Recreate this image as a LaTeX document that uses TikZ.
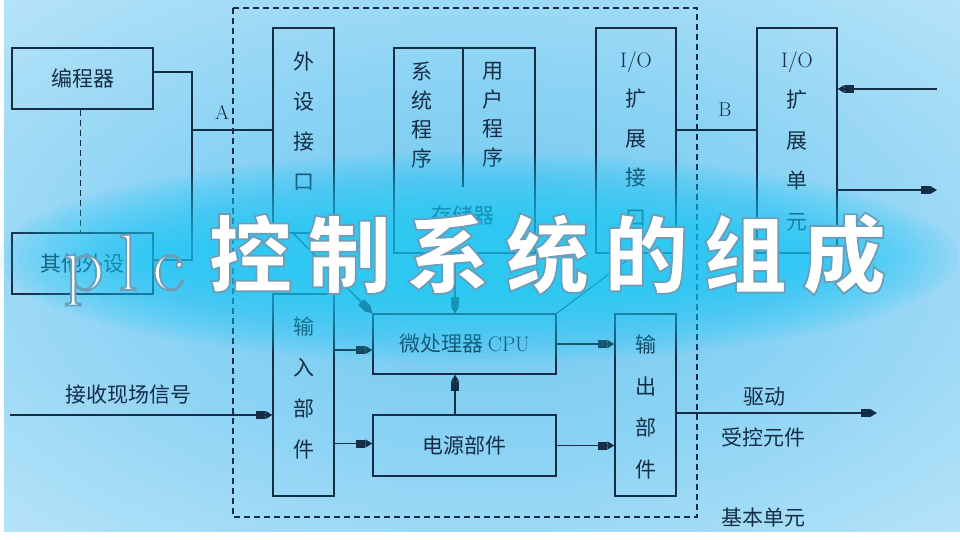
\documentclass[tikz,border=0pt]{standalone}
\usepackage{fontspec}
\newfontfamily\cjk{Noto Sans CJK SC}
\usetikzlibrary{arrows.meta,calc}
\definecolor{ink}{RGB}{22,45,70}
\definecolor{bgA}{RGB}{110,200,240}
\definecolor{bgB}{RGB}{140,211,244}
\definecolor{bgC}{RGB}{192,231,249}
\definecolor{bgD}{RGB}{236,248,253}
\definecolor{glowc}{RGB}{25,200,245}
\pgfdeclareradialshading{bgsh}{\pgfpointorigin}{color(0bp)=(bgA); color(18bp)=(bgB); color(40bp)=(bgC); color(71bp)=(bgD)}
\newcommand\strokeon{\special{pdf:literal direct 2 Tr 1.8 w 0.42 0.62 0.72 RG}}
\newcommand\strokeoff{\special{pdf:literal direct 0 Tr}}
\tikzset{
  box/.style={draw=ink, line width=1.3pt, inner sep=0pt},
  conn/.style={draw=ink, line width=1.3pt},
  dashln/.style={draw=ink, line width=1.3pt, dash pattern=on 6pt off 4pt},
  arr/.style={conn, -{Rectangle[length=9pt,width=8pt]Triangle[length=7pt,width=8pt]}},
  txt/.style={text=ink, inner sep=0pt, font=\cjk\fontsize{21}{25}\selectfont},
  lat/.style={text=ink, inner sep=0pt, font=\rmfamily\fontsize{20}{24}\selectfont},
  vtxt/.style={txt, align=center, font=\cjk\fontsize{21}{#1}\selectfont},
  plcfont/.style={inner sep=0pt, text=white, font=\rmfamily\fontsize{80}{80}\selectfont},
  titfont/.style={inner sep=0pt, text=white, font=\cjk\bfseries\fontsize{84}{84}\selectfont},
}
\begin{document}
\begin{tikzpicture}[x=1pt,y=-1pt]
\useasboundingbox (0,0) rectangle (960,540);
% background
\fill[white] (0,0) rectangle (960,540);
\shade[shading=bgsh] (4,0) rectangle (960,531);

% basic unit (dashed)
\draw[dashln] (233,8) rectangle (697,517);

% boxes
\node[box, minimum width=141pt, minimum height=61pt] (prog) at (82.5,78.5) {};
\node[txt] (progT) at (prog) {编程器};
\node[box, minimum width=141pt, minimum height=61pt] (other) at (82.5,263.5) {};
\node[txt] (otherT) at (other) {其他外设};
\node[box, minimum width=61pt, minimum height=205pt] (periph) at (303.5,130.5) {};
\node[vtxt=40] (periphT) at (303.5,121) {外\\设\\接\\口};
\node[box, minimum width=61pt, minimum height=202pt] (input) at (303.5,395) {};
\node[vtxt=41] (inputT) at (303.5,388) {输\\入\\部\\件};
\node[box, minimum width=141pt, minimum height=205pt] (mem) at (464.5,150.5) {};
\draw[conn] (mem.north) ++(-1.5,0) coordinate (divT) -- ++(0,140) coordinate (divB);
\node[vtxt=29] (sysT) at (422,115) {系\\统\\程\\序};
\node[vtxt=29] (usrT) at (493,115) {用\\户\\程\\序};
\node[txt] (memT) at (463,215) {存储器};
\node[box, minimum width=183pt, minimum height=60pt] (cpu) at (464.5,344) {};
\node[txt] (cpuT) at (cpu) {微处理器 {\rmfamily CPU}};
\node[box, minimum width=183pt, minimum height=61pt] (power) at (464.5,445.5) {};
\node[txt] (powerT) at (power) {电源部件};
\node[box, minimum width=80pt, minimum height=225pt] (ioif) at (636,140.5) {};
\node[vtxt=39.5] (ioifT) at (636,139) {{\rmfamily I/O}\\扩\\展\\接\\口};
\node[box, minimum width=61pt, minimum height=182pt] (output) at (645.5,405) {};
\node[vtxt=41.5] (outputT) at (645.5,407) {输\\出\\部\\件};
\node[box, minimum width=80pt, minimum height=225pt] (iounit) at (797,140.5) {};
\node[vtxt=40.5] (iounitT) at (797,141) {{\rmfamily I/O}\\扩\\展\\单\\元};

% bus to peripherals
\coordinate (busTop) at (192,72);
\coordinate (busBot) at (192,260);
\coordinate (busA) at (192,130);
\draw[conn] (prog.east |- busTop) -- (busTop) -- (busBot) -- (other.east |- busBot);
\draw[conn] (busA) -- (periph.west |- busA);
\draw[dashln] ($(prog.south)+(-2,0)$) -- ($(other.north)+(-2,0)$);
\node[lat] (labA) at (222,112) {A};

% to CPU
\draw[arr] ($(periph.south)+(-10,0)$) -- (cpu.north west);
\draw[arr] ($(mem.south)+(-9.5,0)$) -- ($(cpu.north)+(-9.5,0)$);
\draw[conn, line width=0.9pt] (ioif.south) -- (cpu.north east);
\draw[arr] ($(input.east |- cpu.west)+(0,6)$) -- ($(cpu.west)+(0,6)$);
\draw[arr] ($(input.east |- power.west)+(0,-2)$) -- ($(power.west)+(0,-2)$);
\draw[arr] ($(power.north)+(-9.5,0)$) -- ($(cpu.south)+(-9.5,0)$);
\draw[arr] (cpu.east) -- (output.west |- cpu.east);
\draw[arr] (power.east) -- (output.west |- power.east);

% field signals
\coordinate (sigIn) at (10,415);
\draw[arr] (sigIn) -- (input.west |- sigIn);
\node[txt] (sigT) at (128,395) {接收现场信号};
\coordinate (drvOut) at (877,413);
\draw[arr] (output.east |- drvOut) -- (drvOut);
\node[txt] (drvT) at (764,397) {驱动};
\node[txt] (ctlT) at (763,437) {受控元件};
\node[txt] (baseT) at (763,518) {基本单元};

% expansion
\draw[conn] (ioif.east |- busA) -- (iounit.west |- busA);
\node[lat] (labB) at (725,110) {B};
\coordinate (extIn) at (937,89);
\coordinate (extOut) at (937,190);
\draw[arr] (extIn) -- (iounit.east |- extIn);
\draw[arr] (iounit.east |- extOut) -- (extOut);

% title glow (stacked soft layers)
\foreach \k in {0,...,15}{
  \fill[glowc, opacity=0.08] (478,258) ellipse [x radius={480pt-\k*10pt}, y radius={105pt-\k*4.5pt}];
}
% title: white face with thin outline
\node[plcfont, anchor=base west] (plc) at (63,290) {\strokeon p\hspace{14pt}l\hspace{14pt}c\strokeoff};
\node[titfont, anchor=west] (title) at (208,254) {\strokeon 控\hspace{15pt}制\hspace{15pt}系\hspace{15pt}统\hspace{15pt}的\hspace{15pt}组\hspace{15pt}成\strokeoff};
\end{tikzpicture}
\end{document}
